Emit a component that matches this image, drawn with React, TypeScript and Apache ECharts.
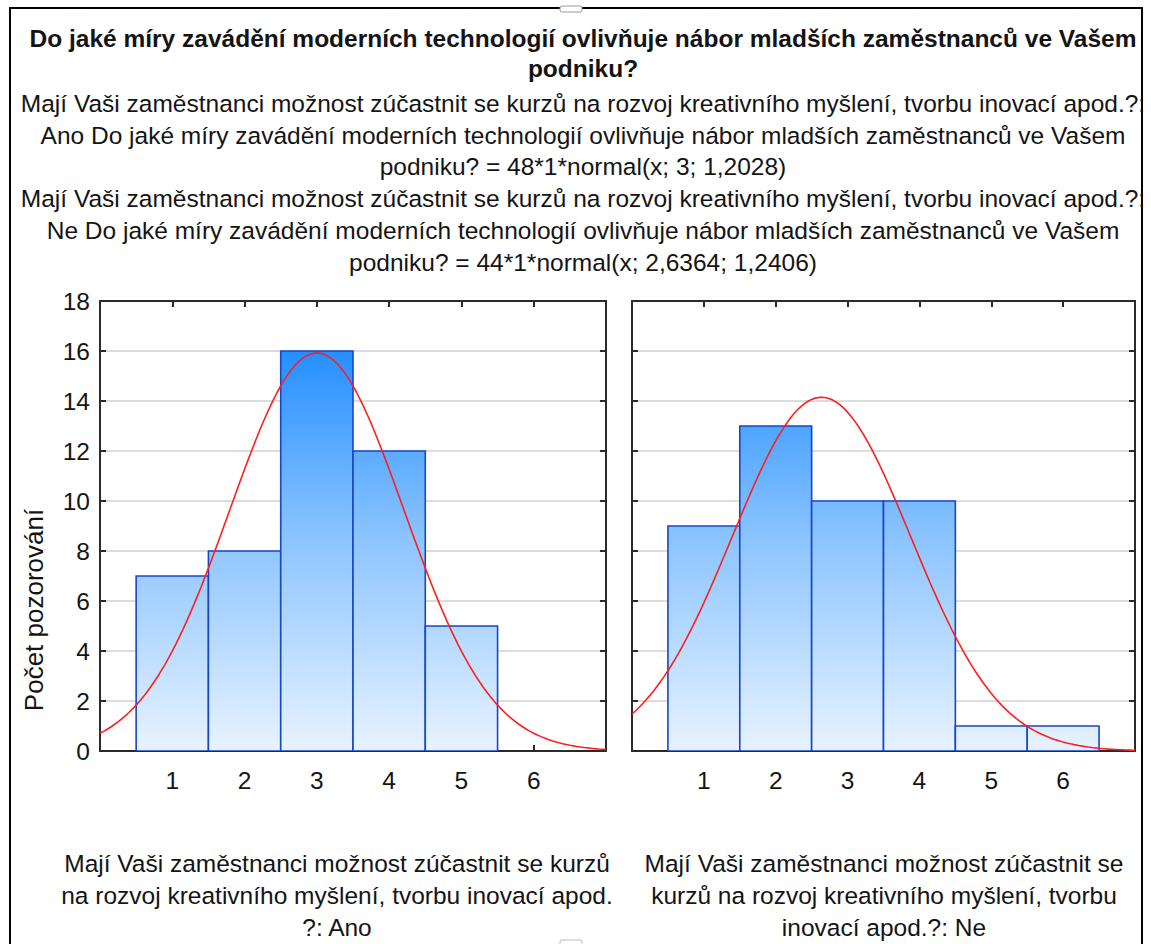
import React, { useEffect, useRef } from "react";
import * as echarts from "echarts";

// ---- data ----
const categories = [1, 2, 3, 4, 5, 6];
const countsAno = [7, 8, 16, 12, 5, 0];
const countsNe = [9, 13, 10, 10, 1, 1];
// fitted normal curves given in the chart's own legend text: N*1*normal(x; mean; sd)
const fitN = [48, 44];
const fitMean = [3, 2.6364];
const fitSd = [1.2028, 1.2406];

const titleLines = [
  "Do jaké míry zavádění moderních technologií ovlivňuje nábor mladších zaměstnanců ve Vašem",
  "podniku?",
];
const subtitleLines = [
  "Mají Vaši zaměstnanci možnost zúčastnit se kurzů na rozvoj kreativního myšlení, tvorbu inovací apod.?:",
  "Ano Do jaké míry zavádění moderních technologií ovlivňuje nábor mladších zaměstnanců ve Vašem",
  "podniku? = 48*1*normal(x; 3; 1,2028)",
  "Mají Vaši zaměstnanci možnost zúčastnit se kurzů na rozvoj kreativního myšlení, tvorbu inovací apod.?:",
  "Ne Do jaké míry zavádění moderních technologií ovlivňuje nábor mladších zaměstnanců ve Vašem",
  "podniku? = 44*1*normal(x; 2,6364; 1,2406)",
];
const captionAno = [
  "Mají Vaši zaměstnanci možnost zúčastnit se kurzů",
  "na rozvoj kreativního myšlení, tvorbu inovací apod.",
  "?: Ano",
];
const captionNe = [
  "Mají Vaši zaměstnanci možnost zúčastnit se",
  "kurzů na rozvoj kreativního myšlení, tvorbu",
  "inovací apod.?: Ne",
];
const yAxisName = "Počet pozorování";

const FONT = '"Liberation Sans", Arial, sans-serif';
const TEXT = "#141414";
const FS = 24.5;

function normalCurve(n: number, mu: number, sd: number): number[][] {
  const pts: number[][] = [];
  for (let i = 0; i <= 140; i++) {
    const x = i * 0.05;
    const z = (x - mu) / sd;
    pts.push([x, (n / (sd * Math.sqrt(2 * Math.PI))) * Math.exp(-0.5 * z * z)]);
  }
  return pts;
}

export default function App() {
  const ref = useRef<HTMLDivElement>(null);
  useEffect(() => {
    document.body.style.margin = "0";
    const chart = echarts.init(ref.current!, null, { renderer: "svg" });

    const grids = [
      { left: 100, top: 301, width: 506, height: 450 },
      { left: 632, top: 301, width: 503, height: 450 },
    ];

    const xAxes: any[] = [];
    const yAxes: any[] = [];
    grids.forEach((_, gi) => {
      const common = {
        type: "value",
        min: 0,
        max: 7,
        interval: 1,
        gridIndex: gi,
        axisLine: { show: true, onZero: false, lineStyle: { color: "#2a2a2a", width: 2 } },
        axisTick: { show: true, inside: true, length: 6, lineStyle: { color: "#2a2a2a", width: 2 } },
        splitLine: { show: false },
      };
      xAxes.push({
        ...common,
        position: "bottom",
        axisLabel: {
          show: true,
          margin: 17,
          fontSize: FS,
          fontFamily: FONT,
          color: TEXT,
          formatter: (v: number) => (v >= 1 && v <= 6 ? String(v) : ""),
        },
      });
      xAxes.push({ ...common, position: "top", axisLabel: { show: false } });
      const ycommon = {
        type: "value",
        min: 0,
        max: 18,
        interval: 2,
        gridIndex: gi,
        axisLine: { show: true, onZero: false, lineStyle: { color: "#2a2a2a", width: 2 } },
        axisTick: { show: true, inside: true, length: 6, lineStyle: { color: "#2a2a2a", width: 2 } },
      };
      yAxes.push({
        ...ycommon,
        position: "left",
        splitLine: { show: true, lineStyle: { color: "#dcdcdc", width: 2 } },
        axisLabel: {
          show: gi === 0,
          margin: 10,
          fontSize: FS,
          fontFamily: FONT,
          color: TEXT,
        },
      });
      yAxes.push({ ...ycommon, position: "right", splitLine: { show: false }, axisLabel: { show: false } });
    });

    const barSeries = (counts: number[], gi: number) => ({
      type: "custom",
      xAxisIndex: gi * 2,
      yAxisIndex: gi * 2,
      clip: true,
      z: 2,
      encode: { x: 0, y: 1 },
      data: categories.map((c, i) => [c, counts[i]]),
      renderItem: (params: any, api: any) => {
        const x = api.value(0);
        const y = api.value(1);
        if (!y) return null;
        const p0 = api.coord([x - 0.5, 0]);
        const p1 = api.coord([x + 0.5, y]);
        const gTop = api.coord([0, 17])[1];
        const gBot = api.coord([0, 0])[1];
        return {
          type: "rect",
          shape: { x: p0[0], y: p1[1], width: p1[0] - p0[0], height: p0[1] - p1[1] },
          style: {
            fill: new echarts.graphic.LinearGradient(
              0,
              gTop,
              0,
              gBot,
              [
                { offset: 0, color: "#1788ff" },
                { offset: 0.5, color: "#8cc4ff" },
                { offset: 1, color: "#e8f3ff" },
              ],
              true
            ),
            stroke: "#1747c9",
            lineWidth: 1.6,
          },
        };
      },
    });

    const curveSeries = (gi: number) => ({
      type: "line",
      xAxisIndex: gi * 2,
      yAxisIndex: gi * 2,
      showSymbol: false,
      smooth: false,
      z: 5,
      silent: true,
      lineStyle: { color: "#ff1e1e", width: 1.6 },
      data: normalCurve(fitN[gi], fitMean[gi], fitSd[gi]),
    });

    const textEl = (text: string, x: number, y: number, size: number, bold = false) => ({
      type: "text",
      x,
      y,
      style: {
        text,
        fontSize: size,
        fontFamily: FONT,
        fontWeight: bold ? "bold" : "normal",
        fill: TEXT,
        align: "center",
        verticalAlign: "middle",
      },
    });

    const graphics: any[] = [
      {
        type: "rect",
        shape: { x: 10, y: 8, width: 1132, height: 960 },
        style: { fill: "none", stroke: "#000", lineWidth: 2 },
        silent: true,
      },
      {
        type: "rect",
        shape: { x: 560, y: 6, width: 22, height: 6, r: 2 },
        style: { fill: "#fff", stroke: "#999", lineWidth: 1 },
      },
      {
        type: "rect",
        shape: { x: 560, y: 940, width: 22, height: 6, r: 2 },
        style: { fill: "#fff", stroke: "#bbb", lineWidth: 1 },
      },
    ];
    const titleY = [38, 68];
    titleLines.forEach((t, i) => graphics.push(textEl(t, 583, titleY[i], FS, true)));
    const subY = [103, 135, 166, 198, 230, 262];
    subtitleLines.forEach((t, i) => graphics.push(textEl(t, 583, subY[i], FS)));
    const capY = [863, 895, 927];
    captionAno.forEach((t, i) => graphics.push(textEl(t, 337, capY[i], FS)));
    captionNe.forEach((t, i) => graphics.push(textEl(t, 884, capY[i], FS)));
    graphics.push({
      type: "text",
      x: 34,
      y: 610,
      rotation: Math.PI / 2,
      style: {
        text: yAxisName,
        fontSize: 26,
        fontFamily: FONT,
        fill: TEXT,
        align: "center",
        verticalAlign: "middle",
      },
    });

    chart.setOption({
      animation: false,
      backgroundColor: "#fff",
      grid: grids.map((g) => ({ ...g, containLabel: false })),
      xAxis: xAxes,
      yAxis: yAxes,
      series: [barSeries(countsAno, 0), barSeries(countsNe, 1), curveSeries(0), curveSeries(1)],
      graphic: graphics,
    });
    return () => chart.dispose();
  }, []);
  return <div ref={ref} style={{ width: 1151, height: 944 }} />;
}
